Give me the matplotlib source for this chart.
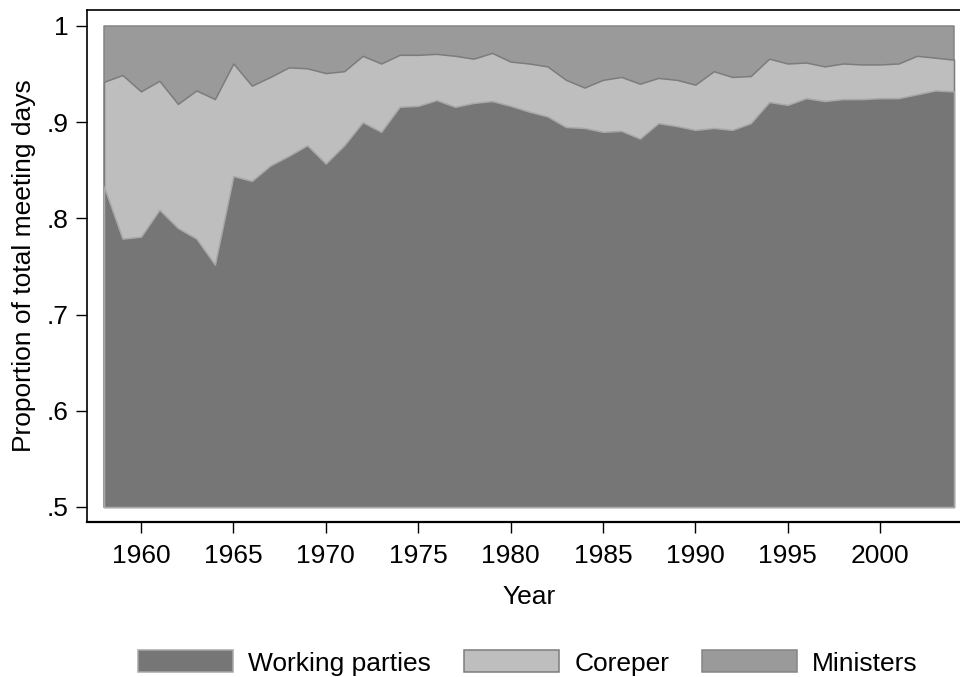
import matplotlib
matplotlib.use("Agg")
import matplotlib.pyplot as plt
import numpy as np

plt.rcParams['font.family'] = ['Liberation Sans', 'DejaVu Sans']

# Datos: proporciones por año
years = list(range(1958, 2005))

working_parties = [.833, .779, .781, .809, .790, .779, .752, .844, .839, .855,
                   .865, .876, .857, .876, .900, .890, .916, .917, .923, .916,
                   .920, .922, .917, .911, .906, .895, .894, .890, .891, .883,
                   .899, .896, .892, .894, .892, .899, .921, .918, .925, .922,
                   .924, .924, .925, .925, .929, .933, .932]

coreper = [.109, .170, .151, .134, .129, .154, .172, .117, .099, .092,
           .092, .080, .094, .077, .069, .071, .054, .053, .048, .053,
           .046, .050, .046, .050, .052, .049, .042, .054, .056, .057,
           .047, .048, .047, .059, .055, .049, .045, .043, .037, .036,
           .037, .036, .035, .036, .040, .034, .033]

ministers = [.058, .051, .068, .057, .081, .067, .076, .039, .062, .053,
             .043, .044, .049, .047, .031, .039, .030, .030, .029, .031,
             .034, .028, .037, .039, .042, .056, .064, .056, .053, .060,
             .054, .056, .061, .047, .053, .052, .034, .039, .038, .042,
             .039, .040, .040, .039, .031, .033, .035]

labels = ['Working parties', 'Coreper', 'Ministers']
fills = ['#767676', '#bebebe', '#9a9a9a']
edges = ['#a8a8a8', '#7c7c7c', '#858585']

# Acumulados para el apilado
shares = np.array([working_parties, coreper, ministers])
cum = np.cumsum(shares, axis=0)

fig = plt.figure(figsize=(9.6, 6.77), dpi=100)
ax = fig.add_axes([87 / 960, 1 - 522 / 677, (971 - 87) / 960, (522 - 10) / 677])

# Dibujar de arriba hacia abajo (Ministers primero)
handles = []
for i in [2, 1, 0]:
    h = ax.fill_between(years, 0.5, cum[i], facecolor=fills[i],
                        edgecolor=edges[i], linewidth=1.1, label=labels[i])
    handles.append(h)
handles = handles[::-1]

ax.set_xlim(1957.08, 2004.92)
ax.set_ylim(0.4844, 1.0166)

fs = 19
ax.set_xticks(range(1960, 2001, 5))
ax.set_yticks([.5, .6, .7, .8, .9, 1])
ax.set_yticklabels(['.5', '.6', '.7', '.8', '.9', '1'])
ax.tick_params(axis='both', labelsize=fs, length=8, width=1, color='black')
ax.tick_params(axis='x', pad=8)
ax.tick_params(axis='y', pad=5)

ax.spines['right'].set_visible(False)
ax.spines['left'].set_linewidth(1.2)
ax.spines['top'].set_linewidth(1.2)
ax.spines['bottom'].set_linewidth(1.6)

ax.set_xlabel('Year', fontsize=fs, labelpad=12)
ax.set_ylabel('Proportion of total meeting days', fontsize=fs, labelpad=8)

fig.legend(handles, labels, loc='center', bbox_to_anchor=(528 / 960, 1 - 663 / 677),
           ncol=3, frameon=False, fontsize=fs, handlelength=3.6, handleheight=0.9,
           columnspacing=1.25, handletextpad=0.57)

fig.savefig('out.png', dpi=100, facecolor='white')
